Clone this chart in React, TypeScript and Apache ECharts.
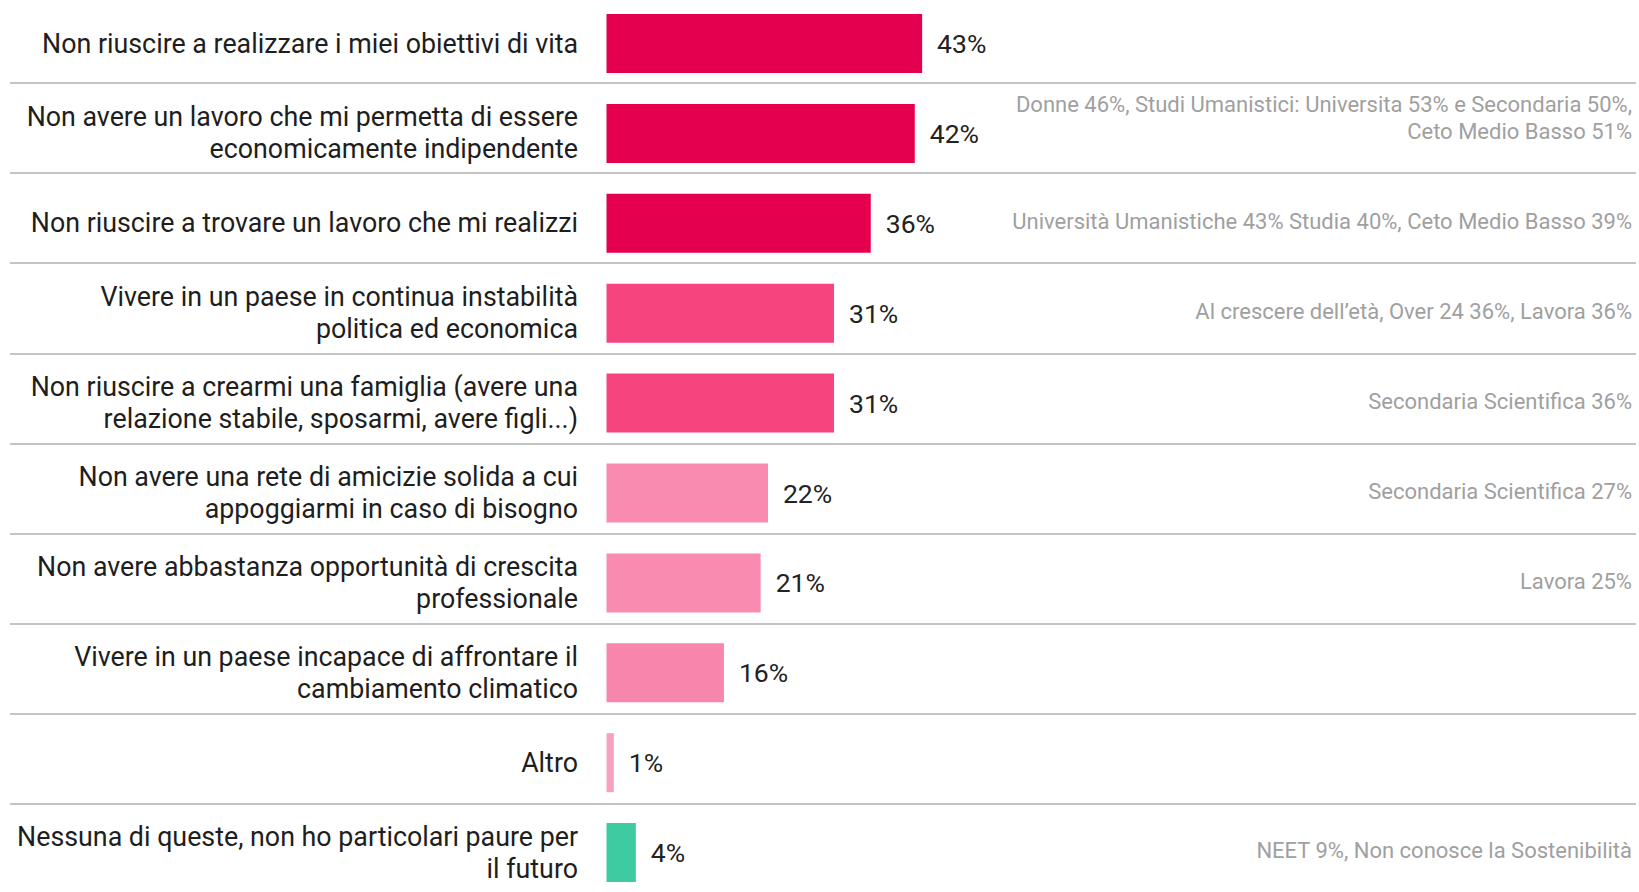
import React, { useEffect, useRef } from "react";
import * as echarts from "echarts";

const categories = [
  "Non riuscire a realizzare i miei obiettivi di vita",
  "Non avere un lavoro che mi permetta di essere\neconomicamente indipendente",
  "Non riuscire a trovare un lavoro che mi realizzi",
  "Vivere in un paese in continua instabilità\npolitica ed economica",
  "Non riuscire a crearmi una famiglia (avere una\nrelazione stabile, sposarmi, avere figli...)",
  "Non avere una rete di amicizie solida a cui\nappoggiarmi in caso di bisogno",
  "Non avere abbastanza opportunità di crescita\nprofessionale",
  "Vivere in un paese incapace di affrontare il\ncambiamento climatico",
  "Altro",
  "Nessuna di queste, non ho particolari paure per\nil futuro",
];

const values = [43, 42, 36, 31, 31, 22, 21, 16, 1, 4];

const notes = [
  "",
  "Donne 46%, Studi Umanistici: Universita 53% e Secondaria 50%,\nCeto Medio Basso 51%",
  "Università Umanistiche 43% Studia 40%, Ceto Medio Basso 39%",
  "Al crescere dell’età, Over 24 36%, Lavora 36%",
  "Secondaria Scientifica 36%",
  "Secondaria Scientifica 27%",
  "Lavora 25%",
  "",
  "",
  "NEET 9%, Non conosce la Sostenibilità",
];

const barColors = [
  "#E4004F",
  "#E4004F",
  "#E4004F",
  "#F6447E",
  "#F6447E",
  "#F98BB0",
  "#F98BB0",
  "#F886AC",
  "#F7A2BD",
  "#3ECBA1",
];

const ROW = 89.9;
const SEP_ROW = 90.1;

export default function App() {
  const ref = useRef<HTMLDivElement>(null);

  useEffect(() => {
    if (!ref.current) return;
    const chart = echarts.init(ref.current, undefined, { renderer: "svg" });
    const idx = categories.map((_, i) => String(i));
    const option: any = {
      animation: false,
      backgroundColor: "#ffffff",
      textStyle: { fontFamily: "Roboto" },
      grid: [
        { left: 606.5, right: 298.5, top: -1.45, height: ROW * 10, outerBoundsMode: "none" },
        { left: 10, right: 3, top: -7.1, height: SEP_ROW * 10, outerBoundsMode: "none" },
        { left: 10, right: 7, top: -3.2, height: ROW * 10, outerBoundsMode: "none" },
      ],
      xAxis: [
        { gridIndex: 0, type: "value", min: 0, max: 100, show: false },
        { gridIndex: 1, type: "value", min: 0, max: 1, show: false },
        { gridIndex: 2, type: "value", min: 0, max: 1, show: false },
      ],
      yAxis: [
        {
          gridIndex: 0,
          type: "category",
          inverse: true,
          data: categories,
          axisLine: { show: false },
          axisTick: { show: false },
          splitLine: { show: false },
          axisLabel: {
            margin: 28.5,
            fontSize: 26.8,
            lineHeight: 32,
            color: "#1e1e1e",
            align: "right",
            fontFamily: "Roboto",
          },
        },
        {
          gridIndex: 1,
          type: "category",
          inverse: true,
          data: idx,
          axisLine: { show: false },
          axisTick: { show: false },
          axisLabel: { show: false },
          splitLine: { show: true, lineStyle: { color: "#c4c4c4", width: 2 } },
        },
        {
          gridIndex: 2,
          type: "category",
          inverse: true,
          position: "right",
          data: idx,
          axisLine: { show: false },
          axisTick: { show: false },
          splitLine: { show: false },
          axisLabel: {
            inside: true,
            margin: 0,
            fontSize: 22,
            lineHeight: 27,
            color: "#a0a0a0",
            align: "right",
            fontFamily: "Roboto",
            formatter: (_v: string, i: number) =>
              notes[i].indexOf("\n") >= 0 ? notes[i] + "\n " : notes[i],
          },
        },
      ],
      series: [
        {
          type: "bar",
          xAxisIndex: 0,
          yAxisIndex: 0,
          barWidth: 59,
          data: values.map((v, i) => ({ value: v, itemStyle: { color: barColors[i] } })),
          label: {
            show: true,
            position: "right",
            distance: 15,
            fontSize: 26.5,
            color: "#222222",
            fontFamily: "Roboto",
            formatter: "{c}%",
          },
        },
      ],
    };
    chart.setOption(option);
    return () => chart.dispose();
  }, []);

  return (
    <div
      ref={ref}
      style={{ position: "fixed", left: 0, top: 0, width: "1639px", height: "892px", background: "#fff" }}
    />
  );
}
